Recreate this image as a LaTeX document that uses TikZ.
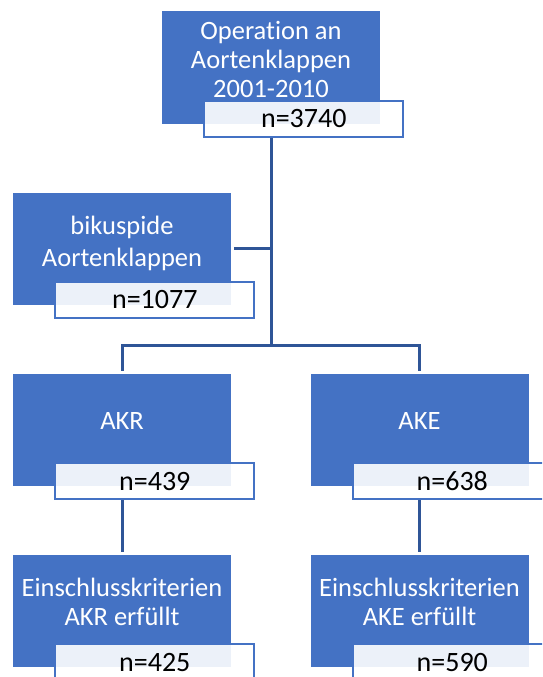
\documentclass[tikz,border=0pt]{standalone}
\usepackage{fontspec}
\setmainfont{Carlito}[Ligatures=NoCommon]
\usepackage{xcolor}
\usepackage{tikz}
\usetikzlibrary{positioning}
\definecolor{boxblue}{HTML}{4472C4}
\definecolor{lineblue}{HTML}{2F5597}

\begin{document}
\begin{tikzpicture}[
  x=1pt, y=-1pt,
  blk/.style={
    rectangle,
    fill=boxblue,
    minimum width=218pt,
    minimum height=112pt,
    inner sep=0pt
  },
  cnt/.style={
    rectangle,
    draw=boxblue,
    line width=2pt,
    fill=white,
    fill opacity=0.9,
    text opacity=1,
    anchor=north west,
    minimum width=199pt,
    minimum height=36pt,
    inner sep=0pt,
    font=\fontsize{28}{34}\selectfont
  },
  lbl/.style={
    text=white,
    align=center,
    inner sep=0pt,
    font=\fontsize{26.5}{29}\selectfont
  },
  conn/.style={lineblue, line width=3pt}
]

\path[use as bounding box, clip] (0,0) rectangle (542,677);

\node[blk] (op) at (271,67.5) {};
\node[lbl] (op-t) at ([yshift=8.5pt]op.center) {Operation an\\Aortenklappen\\2001-2010};
\node[cnt] (op-n) at ([xshift=41.5pt,yshift=24pt]op.south west) {n=3740};

\node[blk] (bi) at (122,248.5) {};
\node[lbl, font=\fontsize{26.5}{32.7}\selectfont] (bi-t) at ([yshift=5pt]bi.center) {bikuspide\\Aortenklappen};
\node[cnt] (bi-n) at ([xshift=41.5pt,yshift=24pt]bi.south west) {n=1077};

\node[blk] (akr) at (122,430) {};
\node[lbl] (akr-t) at ([yshift=9pt]akr.center) {AKR};
\node[cnt] (akr-n) at ([xshift=41.5pt,yshift=24pt]akr.south west) {n=439};

\node[blk] (ake) at (419.5,430) {};
\node[lbl] (ake-t) at ([yshift=9pt]ake.center) {AKE};
\node[cnt] (ake-n) at ([xshift=41.5pt,yshift=24pt]ake.south west) {n=638};

\node[blk] (akr2) at (122,611) {};
\node[lbl] (akr2-t) at ([yshift=9pt]akr2.center) {Einschlusskriterien\\AKR erfüllt};
\node[cnt] (akr2-n) at ([xshift=41.5pt,yshift=24pt]akr2.south west) {n=425};

\node[blk] (ake2) at (419.5,611) {};
\node[lbl] (ake2-t) at ([yshift=9pt]ake2.center) {Einschlusskriterien\\AKE erfüllt};
\node[cnt] (ake2-n) at ([xshift=41.5pt,yshift=24pt]ake2.south west) {n=590};

\coordinate (split) at (271,345.6);

\draw[conn] (op-n.south -| op.center) -- (split);
\draw[conn, shorten <=3pt] (bi.east) -- (bi.east -| split);
\draw[conn] ([yshift=3pt]akr.north) |- (split) -| ([yshift=3pt]ake.north);
\draw[conn] (akr-n.south -| akr.center) -- ([yshift=3pt]akr2.north);
\draw[conn] (ake-n.south -| ake.center) -- ([yshift=3pt]ake2.north);

\end{tikzpicture}
\end{document}
